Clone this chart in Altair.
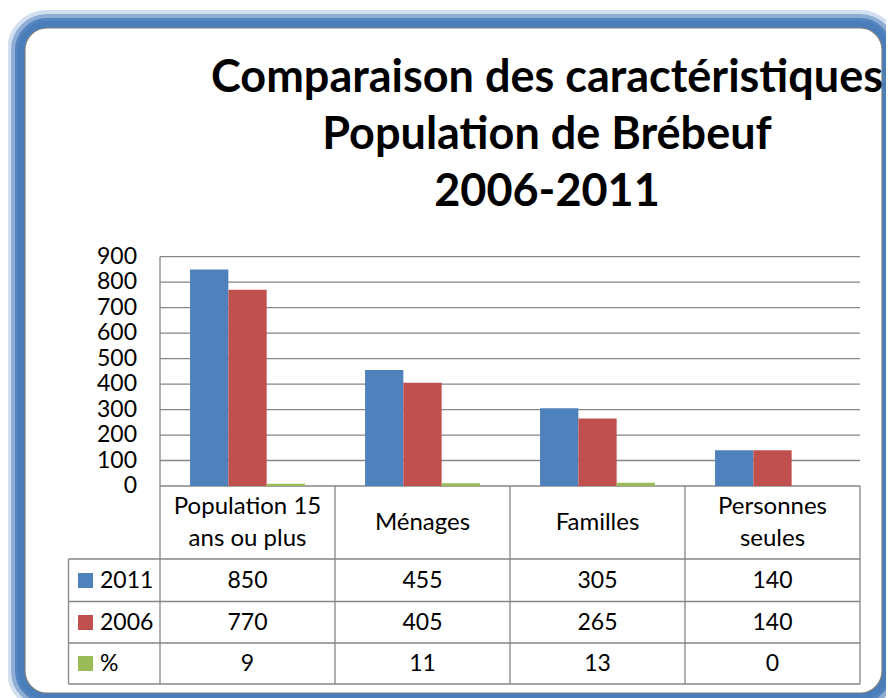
import altair as alt
import pandas as pd

# ---- data ----
categories = ["Population 15 ans ou plus", "Ménages", "Familles", "Personnes seules"]
header_lines = [["Population 15", "ans ou plus"], ["Ménages"], ["Familles"], ["Personnes", "seules"]]
series = ["2011", "2006", "%"]
v2011 = [850, 455, 305, 140]
v2006 = [770, 405, 265, 140]
pct = [9, 11, 13, 0]
colors = ["#4F81BD", "#C0504D", "#9BBB59"]
y_ticks = [0, 100, 200, 300, 400, 500, 600, 700, 800, 900]
title_lines = ["Comparaison des caractéristiques", "Population de Brébeuf", "2006-2011"]

FONT = "Lato"
GRID = "#868686"

values_by_series = {"2011": v2011, "2006": v2006, "%": pct}
rows = []
for s in series:
    for c, v in zip(categories, values_by_series[s]):
        rows.append({"cat": c, "series": s, "value": v})
df = pd.DataFrame(rows)

# layout (view coordinates)
W, H = 857, 665
PX0, PX1 = 135, 835          # plot area left/right
PY_TOP, PY_BOT = 228.7, 458  # y for 900 and 0
ROW_LINES = [531, 573.5, 615, 656]
ROW_CENTERS = [552.5, 594.5, 635.5]
HEADER_CENTER = 494.5
LINE_H = 32
TABLE_LEFT = 43.5
BAR_W = 38.3
TITLE_Y0, TITLE_DY = 64, 57

xscale = alt.Scale(domain=categories, range=[PX0, PX1], paddingInner=0, paddingOuter=0)
yscale = alt.Scale(domain=[0, 900], range=[PY_BOT, PY_TOP], nice=False, zero=True)

one = pd.DataFrame([{"k": 0}])

layers = []

# ---- frame (decorative) ----
R = 22
for inset, sw, op in [(9, 18, 0.25), (7, 14, 0.5), (5, 10, 0.85), (3.5, 7, 1.0)]:
    layers.append(
        alt.Chart(one).mark_rect(fill="transparent", stroke="#4A7EBB", strokeWidth=sw,
                                 strokeOpacity=op, cornerRadius=R + inset)
        .encode(x=alt.value(-inset), x2=alt.value(W + inset),
                y=alt.value(-inset), y2=alt.value(H + inset))
    )
layers.append(
    alt.Chart(one).mark_rect(fill="white", stroke="#7F7F7F", strokeWidth=1.2, cornerRadius=R)
    .encode(x=alt.value(0), x2=alt.value(W), y=alt.value(0), y2=alt.value(H))
)

# ---- title ----
for i, line in enumerate(title_lines):
    layers.append(
        alt.Chart(pd.DataFrame([{"t": line}])).mark_text(
            font=FONT, fontSize=45, fontWeight="bold", color="black",
            align="center", baseline="alphabetic")
        .encode(x=alt.value(522), y=alt.value(TITLE_Y0 + TITLE_DY * i), text="t:N")
    )

# ---- gridlines ----
ticks_df = pd.DataFrame({"v": y_ticks})
layers.append(
    alt.Chart(ticks_df).mark_rule(color=GRID, strokeWidth=1.3)
    .encode(y=alt.Y("v:Q", scale=yscale, axis=None), x=alt.value(PX0), x2=alt.value(PX1))
)
# y tick labels
layers.append(
    alt.Chart(ticks_df).mark_text(font=FONT, fontSize=23, color="black", align="right", baseline="middle")
    .encode(y=alt.Y("v:Q", scale=yscale, axis=None), x=alt.value(112), text=alt.Text("v:Q", format="d"))
)
# y axis line
layers.append(
    alt.Chart(pd.DataFrame([{"cat": categories[0], "top": y_ticks[-1], "bot": y_ticks[0]}]))
    .mark_rule(color=GRID, strokeWidth=1.3)
    .encode(x=alt.X("cat:N", scale=xscale, axis=None, bandPosition=0),
            y=alt.Y("top:Q", scale=yscale, axis=None), y2="bot:Q")
)

# ---- bars (one layer per series, shifted within the category band) ----
for k, (s, col) in enumerate(zip(series, colors)):
    layers.append(
        alt.Chart(df[df["series"] == s]).mark_bar(color=col, width=BAR_W, xOffset=(k - 1) * BAR_W)
        .encode(
            x=alt.X("cat:N", scale=xscale, axis=None, sort=categories),
            y=alt.Y("value:Q", scale=yscale, axis=None),
        )
    )

# ---- data table ----
cat_df = pd.DataFrame({"cat": categories})
layers.append(
    alt.Chart(cat_df).mark_rule(color=GRID, strokeWidth=1.3)
    .encode(x=alt.X("cat:N", scale=xscale, axis=None, bandPosition=0),
            y=alt.value(PY_BOT), y2=alt.value(ROW_LINES[-1]))
)
layers.append(
    alt.Chart(pd.DataFrame([{"cat": categories[-1]}])).mark_rule(color=GRID, strokeWidth=1.3)
    .encode(x=alt.X("cat:N", scale=xscale, axis=None, bandPosition=1),
            y=alt.value(PY_BOT), y2=alt.value(ROW_LINES[-1]))
)
layers.append(
    alt.Chart(one).mark_rule(color=GRID, strokeWidth=1.3)
    .encode(x=alt.value(TABLE_LEFT), y=alt.value(ROW_LINES[0]), y2=alt.value(ROW_LINES[-1]))
)
for yl in ROW_LINES:
    layers.append(
        alt.Chart(one).mark_rule(color=GRID, strokeWidth=1.3)
        .encode(x=alt.value(TABLE_LEFT), x2=alt.value(PX1), y=alt.value(yl))
    )

# header labels (one- and two-line labels centred in the header row)
hdr = pd.DataFrame({"cat": categories, "lines": header_lines})
hdr["n"] = hdr["lines"].apply(len)
for n in sorted(hdr["n"].unique()):
    sub = hdr[hdr["n"] == n]
    layers.append(
        alt.Chart(sub).mark_text(font=FONT, fontSize=24, color="black",
                                 align="center", baseline="middle", lineHeight=LINE_H)
        .encode(x=alt.X("cat:N", scale=xscale, axis=None),
                y=alt.value(HEADER_CENTER - (n - 1) * LINE_H / 2), text="lines")
    )

# rows
for s, yc, col in zip(series, ROW_CENTERS, colors):
    sdf = df[df["series"] == s]
    layers.append(
        alt.Chart(sdf).mark_text(font=FONT, fontSize=23, color="black", align="center", baseline="middle")
        .encode(x=alt.X("cat:N", scale=xscale, axis=None), y=alt.value(yc), text=alt.Text("value:Q", format="d"))
    )
    ldf = pd.DataFrame([{"series": s}])
    layers.append(
        alt.Chart(ldf).mark_square(size=225, opacity=1, color=col)
        .encode(x=alt.value(60.5), y=alt.value(yc))
    )
    layers.append(
        alt.Chart(ldf).mark_text(font=FONT, fontSize=23, color="black", align="left", baseline="middle")
        .encode(x=alt.value(75), y=alt.value(yc), text="series:N")
    )

chart = alt.layer(*layers).properties(
    width=W, height=H,
    autosize=alt.AutoSizeParams(type="none"),
    padding={"left": 17, "top": 20, "right": 4, "bottom": 5},
    background="white",
).configure_view(strokeWidth=0)

chart.save("out.html", embed_options={"renderer": "svg", "actions": False})
